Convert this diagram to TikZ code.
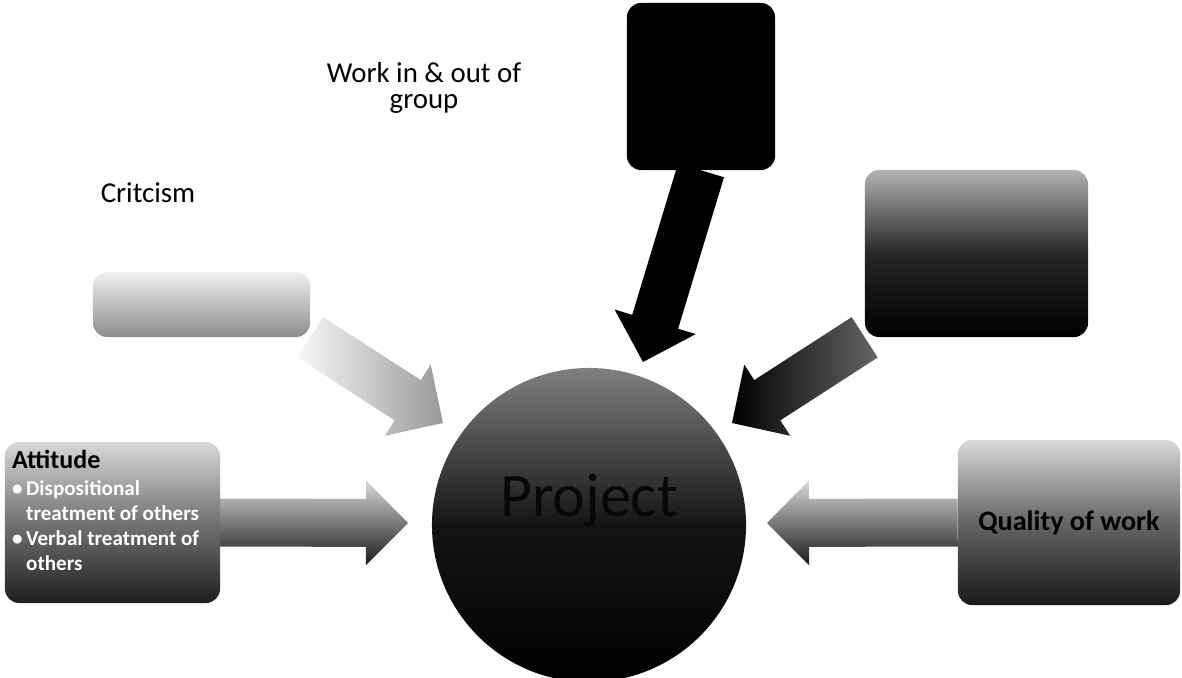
\documentclass[tikz,border=0pt]{standalone}
\usepackage{fontspec}
\setmainfont{Carlito}
\usetikzlibrary{positioning,calc,backgrounds}
\tikzset{
 box/.style={rounded corners=10pt,inner sep=4pt,font=\bfseries\fontsize{20}{20}\selectfont},
 lbl/.style={align=center,font=\fontsize{20.5}{18.5}\selectfont},
 blockarrow/.style={to path={
   ($(\tikztostart)!0.6cm!90:(\tikztotarget)$)
   -- ($(\tikztotarget)!1.209cm!-29.74:(\tikztostart)$)
   -- ($(\tikztotarget)!1.492cm!-45.27:(\tikztostart)$)
   -- (\tikztotarget)
   -- ($(\tikztotarget)!1.492cm!45.27:(\tikztostart)$)
   -- ($(\tikztotarget)!1.209cm!29.74:(\tikztostart)$)
   -- ($(\tikztostart)!0.6cm!-90:(\tikztotarget)$) -- cycle}},
}

\begin{document}
\begin{tikzpicture}[x=0.025cm,y=-0.025cm]
\useasboundingbox (0,0) rectangle (1182,677);
% boxes
\node[box,fill=black,minimum width=3.7cm,minimum height=4.175cm] (wio) at (701,86.5) {};
\node[box,shade,top color=black!30,bottom color=black,middle color=black!85,
      minimum width=5.575cm,minimum height=4.175cm] (rbox) at (976.5,253.5) {};
\node[box,shade,top color=black!6,bottom color=black!45,
      minimum width=5.425cm,minimum height=1.625cm] (crit) at (201.5,304.5) {};
\node[box,shade,top color=black!15,bottom color=black!88,middle color=black!55,
      minimum width=5.375cm,minimum height=4.025cm] (att) at (112.5,522.5) {};
\node[box,shade,top color=black!15,bottom color=black!90,middle color=black!60,
      minimum width=5.55cm,minimum height=4.125cm] (qual) at (1069,522.5) {Quality of work};
\node[circle,shade,top color=black!50,bottom color=black,middle color=black!92,
      minimum size=7.85cm] (proj) at (589,525) {};
\node[text=black!97,font=\fontsize{44}{44}\selectfont] (projlbl) at ([yshift=0.6cm]proj.center) {Project};

% texts
\node[anchor=north west,inner sep=0pt,font=\bfseries\fontsize{18.5}{20}\selectfont]
     (atttl) at ([xshift=0.18cm,yshift=-0.2cm]att.north west) {Attitude};
\node[below=0.3cm of atttl.south west,anchor=north west,inner sep=0pt,align=left,
      text=white,font=\bfseries\fontsize{15}{17.8}\selectfont] (attlst)
     {\textbullet\,Dispositional\\\hphantom{\textbullet\,}treatment of others\\
      \textbullet\,Verbal treatment of\\\hphantom{\textbullet\,}others};
\node[lbl] (wiolbl) at (424,88) {Work in \& out of\\group};
\node[lbl] (critlbl) at (148,193) {Critcism};

% arrow tips
\coordinate (tipT) at (643,362);
\coordinate (tipR) at (732,423);
\coordinate (tipC) at (443,423);
\coordinate (tipA) at (408,523);
\coordinate (tipQ) at (767,523);

\begin{scope}[on background layer]
\path[blockarrow,fill=black] (wio.south) to (tipT);
\path[blockarrow,shade,left color=black,right color=black!60] (rbox.south west) to (tipR);
\path[blockarrow,shade,left color=black!3,right color=black!40] (crit.south east) to (tipC);
\path[blockarrow,shade,top color=black!15,bottom color=black!90] (att.east) to (tipA);
\path[blockarrow,shade,top color=black!15,bottom color=black!90] (qual.west) to (tipQ);
\end{scope}
\end{tikzpicture}
\end{document}
